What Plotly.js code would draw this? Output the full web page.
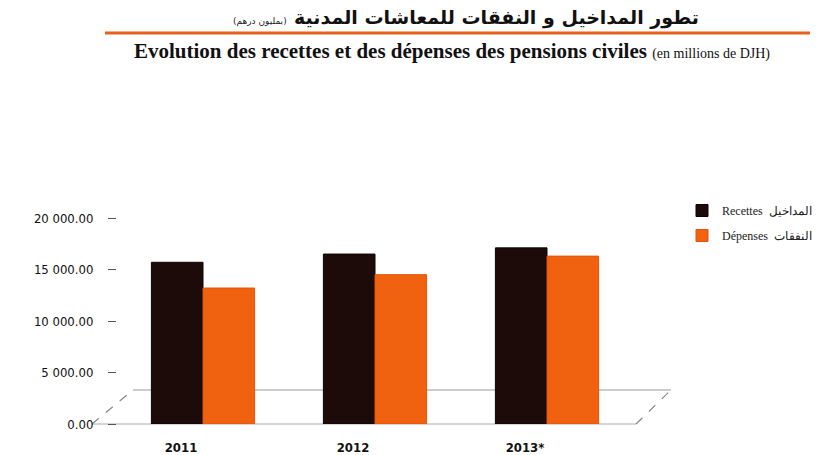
<!DOCTYPE html>
<html>
<head>
<meta charset="utf-8">
<script src="https://cdn.plot.ly/plotly-3.0.1.min.js"></script>
<style>
  body { margin: 0; background: #fff; }
  #chart { width: 817px; height: 455px; }
</style>
</head>
<body>
<div id="chart"></div>
<script>
// values (millions)
var years = ["2011", "2012", "2013*"];
var recettes = [15700, 16500, 17100];
var depenses = [13200, 14500, 16300];
var seriesNames = ["Recettes  المداخيل", "Dépenses  النفقات"];

// plot box in pixels, used for the decorations only
var L = 117, R = 633, T = 218, B = 424;
function px(x) { return (x - L) / (R - L); }
function py(y) { return (B - y) / (B - T); }

var trace1 = {
  x: years,
  y: recettes,
  name: seriesNames[0],
  type: "bar",
  legendgroup: "a",
  marker: { color: "#1c0b09", line: { color: "#0d0504", width: 1 } }
};
var trace2 = {
  x: years,
  y: depenses,
  name: seriesNames[1],
  type: "bar",
  legendgroup: "b",
  marker: { color: "#f0620f", line: { color: "#e35508", width: 1 } }
};
var data = [trace1, trace2];

var floorDash = { color: "#888", width: 1.2, dash: "dash" };

var layout = {
  width: 817,
  height: 455,
  margin: { l: L, r: 817 - R, t: T, b: 455 - B, autoexpand: false },
  paper_bgcolor: "#fff",
  plot_bgcolor: "rgba(0,0,0,0)",
  barmode: "group",
  bargap: 0.4,
  bargroupgap: 0,
  separators: ". ",
  showlegend: true,
  legend: {
    x: px(682), y: py(196), xanchor: "left", yanchor: "top",
    font: { family: "Liberation Serif", size: 12, color: "#222" },
    tracegroupgap: 6,
    bgcolor: "rgba(0,0,0,0)"
  },
  xaxis: {
    type: "category",
    range: [-0.5, 2.5],
    showline: false,
    showgrid: false,
    ticks: "",
    ticklabelshift: -22,
    ticklabelstandoff: 14,
    tickfont: { family: "DejaVu Sans Condensed", size: 13, color: "#111", weight: "bold" },
    fixedrange: true
  },
  yaxis: {
    range: [0, 20000],
    tickvals: [0, 5000, 10000, 15000, 20000],
    tickformat: ",.2f",
    showgrid: false,
    zeroline: false,
    showline: false,
    ticks: "outside",
    ticklen: 8,
    tickcolor: "#555",
    ticklabelstandoff: 12,
    tickfont: { family: "DejaVu Sans Condensed", size: 13, color: "#111" },
    fixedrange: true
  },
  shapes: [
    // title underline
    { type: "line", xref: "paper", yref: "paper",
      x0: px(105), x1: px(810), y0: py(33), y1: py(33),
      line: { color: "#e8601c", width: 3 } },
    // 3d floor outline
    { type: "line", xref: "paper", yref: "paper", layer: "below",
      x0: px(92), x1: px(636), y0: py(424), y1: py(424),
      line: { color: "#aaa", width: 1 } },
    { type: "line", xref: "paper", yref: "paper", layer: "below",
      x0: px(92), x1: px(133), y0: py(424), y1: py(390), line: floorDash },
    { type: "line", xref: "paper", yref: "paper", layer: "below",
      x0: px(133), x1: px(671), y0: py(390), y1: py(390),
      line: { color: "#999", width: 1 } },
    { type: "line", xref: "paper", yref: "paper", layer: "below",
      x0: px(636), x1: px(671), y0: py(424), y1: py(390), line: floorDash }
  ],
  annotations: [
    { xref: "paper", yref: "paper", x: px(496), y: py(17),
      text: "<b>تطور المداخيل و النفقات للمعاشات المدنية</b>",
      showarrow: false, xanchor: "center", yanchor: "middle",
      font: { family: "DejaVu Sans", size: 19, color: "#111" } },
    { xref: "paper", yref: "paper", x: px(260), y: py(21),
      text: "(بمليون درهم)",
      showarrow: false, xanchor: "center", yanchor: "middle",
      font: { family: "DejaVu Sans", size: 9, color: "#222" } },
    { xref: "paper", yref: "paper", x: px(452), y: py(51),
      text: "<b>Evolution des recettes et des dépenses des pensions civiles</b> <span style='font-size:14px'>(en millions de DJH)</span>",
      showarrow: false, xanchor: "center", yanchor: "middle",
      font: { family: "Liberation Serif", size: 21, color: "#111" } }
  ]
};

Plotly.newPlot("chart", data, layout, { displayModeBar: false, staticPlot: true });
</script>
</body>
</html>
